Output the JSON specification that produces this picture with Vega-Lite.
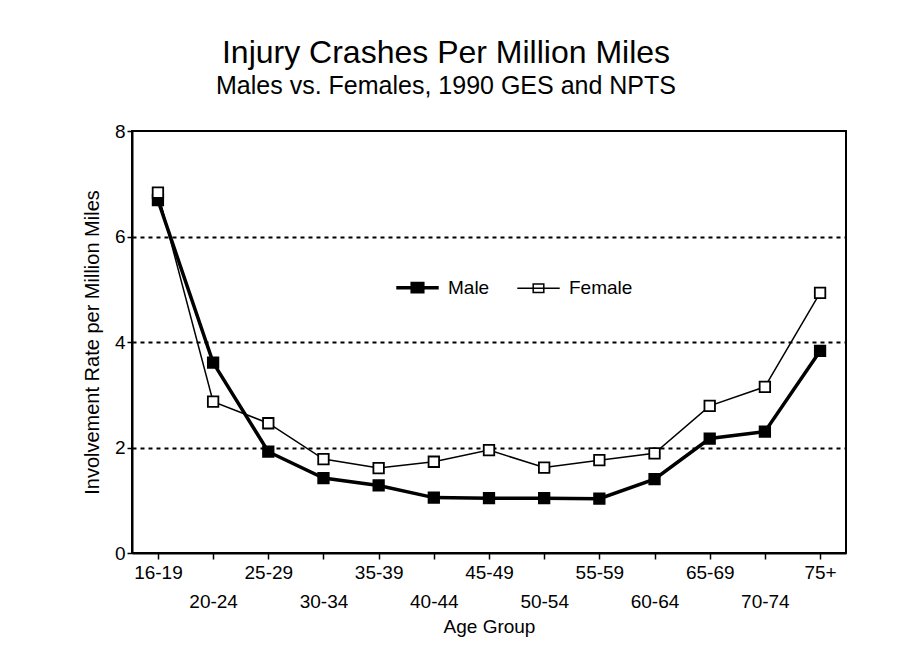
{
  "$schema": "https://vega.github.io/schema/vega-lite/v6.json",
  "autosize": "none",
  "width": 714,
  "height": 422,
  "padding": {"left": 132, "top": 131, "right": 63, "bottom": 117},
  "background": "white",
  "title": {
    "text": "Injury Crashes Per Million Miles",
    "subtitle": "Males vs. Females, 1990 GES and NPTS",
    "anchor": "middle",
    "dx": -43,
    "offset": 22,
    "font": "Liberation Sans",
    "fontSize": 32,
    "fontWeight": "normal",
    "color": "black",
    "subtitleFont": "Liberation Sans",
    "subtitleFontSize": 25,
    "subtitleColor": "black",
    "subtitlePadding": 4
  },
  "config": {
    "view": {"stroke": "black", "strokeWidth": 2},
    "font": "Liberation Sans",
    "axis": {
      "labelFont": "Liberation Sans",
      "titleFont": "Liberation Sans",
      "labelFontSize": 19,
      "titleFontSize": 19,
      "titleFontWeight": "normal",
      "labelColor": "black",
      "titleColor": "black",
      "domainColor": "black",
      "domainWidth": 2,
      "tickColor": "black",
      "tickWidth": 1.5,
      "tickSize": 6
    }
  },
  "data": {
    "values": [
      {"age": "16-19", "series": "Male", "rate": 6.69},
      {"age": "20-24", "series": "Male", "rate": 3.61},
      {"age": "25-29", "series": "Male", "rate": 1.92},
      {"age": "30-34", "series": "Male", "rate": 1.42},
      {"age": "35-39", "series": "Male", "rate": 1.28},
      {"age": "40-44", "series": "Male", "rate": 1.05},
      {"age": "45-49", "series": "Male", "rate": 1.04},
      {"age": "50-54", "series": "Male", "rate": 1.04},
      {"age": "55-59", "series": "Male", "rate": 1.03},
      {"age": "60-64", "series": "Male", "rate": 1.4},
      {"age": "65-69", "series": "Male", "rate": 2.17},
      {"age": "70-74", "series": "Male", "rate": 2.3},
      {"age": "75+", "series": "Male", "rate": 3.83},
      {"age": "16-19", "series": "Female", "rate": 6.83},
      {"age": "20-24", "series": "Female", "rate": 2.87},
      {"age": "25-29", "series": "Female", "rate": 2.46},
      {"age": "30-34", "series": "Female", "rate": 1.78},
      {"age": "35-39", "series": "Female", "rate": 1.61},
      {"age": "40-44", "series": "Female", "rate": 1.73},
      {"age": "45-49", "series": "Female", "rate": 1.95},
      {"age": "50-54", "series": "Female", "rate": 1.62},
      {"age": "55-59", "series": "Female", "rate": 1.76},
      {"age": "60-64", "series": "Female", "rate": 1.89},
      {"age": "65-69", "series": "Female", "rate": 2.79},
      {"age": "70-74", "series": "Female", "rate": 3.15},
      {"age": "75+", "series": "Female", "rate": 4.93}
    ]
  },
  "encoding": {
    "x": {
      "field": "age",
      "type": "ordinal",
      "sort": null,
      "scale": {"type": "point", "padding": 0.47},
      "axis": {
        "title": "Age Group",
        "labelAngle": 0,
        "labelPadding": 4,
        "labelLineHeight": 29,
        "labelExpr": "indexof(['16-19','25-29','35-39','45-49','55-59','65-69','75+'], datum.value) >= 0 ? datum.value : ['', datum.value]",
        "titlePadding": 6,
        "grid": false
      }
    },
    "y": {
      "field": "rate",
      "type": "quantitative",
      "scale": {"domain": [0, 8]},
      "axis": {
        "title": "Involvement Rate per Million Miles",
        "titleFontSize": 20,
        "values": [0, 2, 4, 6, 8],
        "tickSize": 5,
        "labelPadding": 2,
        "titlePadding": 12,
        "grid": true,
        "gridColor": "black",
        "gridWidth": 2,
        "gridDash": [4, 4],
        "gridOpacity": {"condition": {"test": "datum.value === 0 || datum.value === 8", "value": 0}, "value": 1}
      }
    }
  },
  "layer": [
    {
      "transform": [{"filter": "datum.series === 'Female'"}],
      "mark": {"type": "line", "color": "black", "strokeWidth": 1.5},
      "encoding": {}
    },
    {
      "transform": [{"filter": "datum.series === 'Male'"}],
      "mark": {"type": "line", "color": "black", "strokeWidth": 3.5},
      "encoding": {}
    },
    {
      "mark": {"type": "point", "shape": "square", "filled": true, "size": 110, "stroke": "black", "strokeWidth": 1.8, "opacity": 1},
      "encoding": {
        "fill": {
          "field": "series",
          "type": "nominal",
          "scale": {"domain": ["Male", "Female"], "range": ["black", "white"]},
          "legend": {
            "title": null,
            "orient": "none",
            "direction": "horizontal",
            "legendX": 276,
            "legendY": 147,
            "symbolType": "M-1,0H1M-0.25,-0.2H0.25V0.2H-0.25Z",
            "symbolSize": 1800,
            "symbolStrokeColor": "black",
            "symbolStrokeWidth": 2.5,
            "symbolOpacity": 1,
            "labelFont": "Liberation Sans",
            "labelFontSize": 19,
            "labelColor": "black",
            "labelOffset": 21,
            "columnPadding": 24,
            "encode": {
              "symbols": {"update": {"strokeWidth": {"signal": "datum.value === 'Male' ? 3.5 : 1.5"}, "stroke": {"value": "black"}}}
            }
          }
        }
      }
    }
  ]
}
